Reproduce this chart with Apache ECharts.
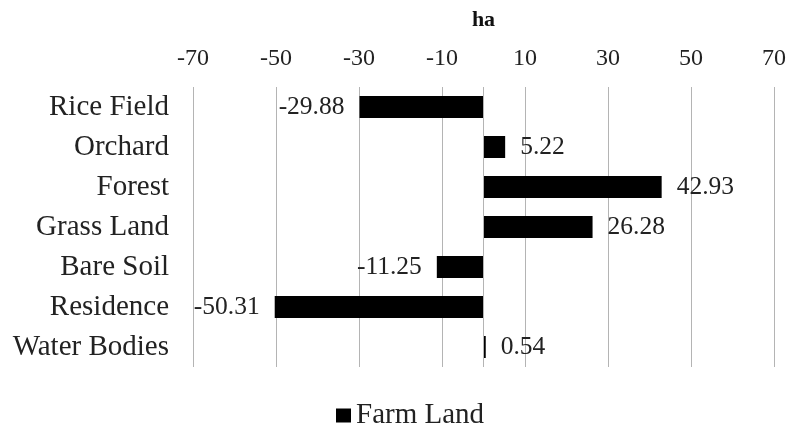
<!DOCTYPE html>
<html>
<head>
<meta charset="utf-8">
<script src="https://cdn.jsdelivr.net/npm/echarts@6/dist/echarts.min.js"></script>
<style>
  html, body { margin: 0; padding: 0; background: #fff; }
  #chart { width: 788px; height: 430px; }
</style>
</head>
<body>
<div id="chart"></div>
<script>
// Land-cover change into farm land, in hectares
const categories = ['Rice Field', 'Orchard', 'Forest', 'Grass Land', 'Bare Soil', 'Residence', 'Water Bodies'];
const farmLand = [-29.88, 5.22, 42.93, 26.28, -11.25, -50.31, 0.54];
const tickValues = [-70, -50, -30, -10, 10, 30, 50, 70];

const FONT = '"Liberation Serif", "Times New Roman", serif';
const chart = echarts.init(document.getElementById('chart'));

chart.setOption({
  animation: false,
  textStyle: { fontFamily: FONT },
  grid: { left: 193, right: 14, top: 87, bottom: 63, outerBoundsMode: 'none' },
  legend: {
    top: 396,
    left: 331,
    icon: 'rect',
    itemWidth: 15,
    itemHeight: 14,
    itemGap: 6,
    textStyle: { fontFamily: FONT, fontSize: 29, color: '#222' },
    data: ['Farm Land']
  },
  xAxis: {
    type: 'value',
    position: 'top',
    min: tickValues[0],
    max: tickValues[tickValues.length - 1],
    interval: 20,
    name: 'ha',
    nameLocation: 'middle',
    nameGap: 56,
    nameTextStyle: { fontFamily: FONT, fontSize: 22, fontWeight: 'bold', color: '#111' },
    axisLine: { show: false },
    axisTick: { show: false },
    axisLabel: { fontFamily: FONT, fontSize: 24, color: '#222', margin: 16 },
    splitLine: { show: true, lineStyle: { color: '#b4b4b4', width: 1 } }
  },
  yAxis: {
    type: 'category',
    inverse: true,
    data: categories,
    axisLine: { show: false },
    axisTick: { show: false },
    axisLabel: { fontFamily: FONT, fontSize: 29, color: '#222', margin: 24 }
  },
  series: [{
    name: 'Farm Land',
    type: 'bar',
    data: farmLand.map(v => ({
      value: v,
      label: { position: v < 0 ? 'left' : 'right' }
    })),
    barCategoryGap: '45%',
    itemStyle: { color: '#000' },
    label: {
      show: true,
      distance: 15,
      fontFamily: FONT,
      fontSize: 25.5,
      color: '#222',
      formatter: p => p.value.toFixed(2)
    },
    markLine: {
      silent: true,
      symbol: 'none',
      label: { show: false },
      lineStyle: { color: '#b4b4b4', width: 1, type: 'solid' },
      data: [{ xAxis: 0 }]
    }
  }]
});
</script>
</body>
</html>
